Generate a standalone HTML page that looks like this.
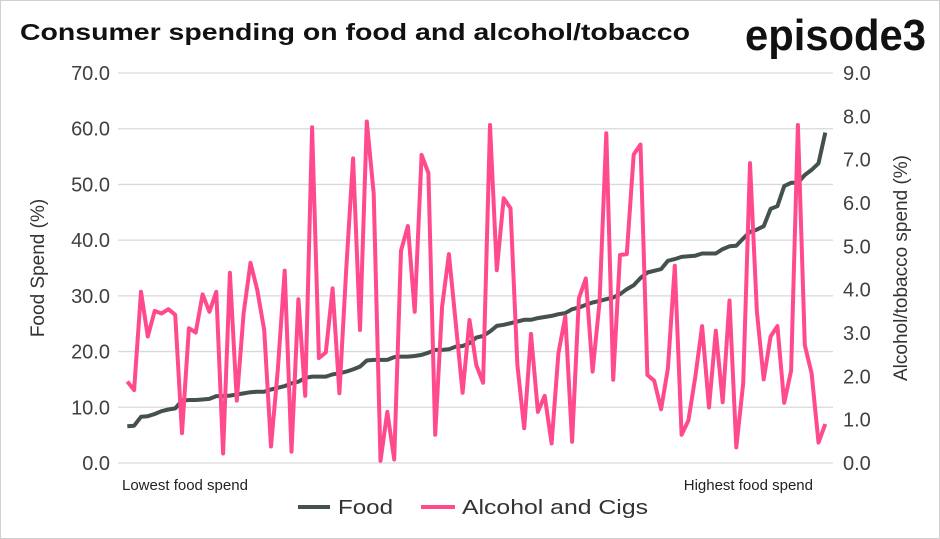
<!DOCTYPE html>
<html><head><meta charset="utf-8"><style>
body{margin:0;background:#fff;}
#wrap{position:relative;width:940px;height:539px;overflow:hidden;background:#fff;font-family:"Liberation Sans",sans-serif;}
</style></head><body>
<div id="wrap">
<svg id="chart" width="940" height="539">
<rect x="0.5" y="0.5" width="939" height="538" fill="none" stroke="#d0d0d0"/>
<text x="20" y="40" font-size="23" font-weight="bold" fill="#111" textLength="670" lengthAdjust="spacingAndGlyphs">Consumer spending on food and alcohol/tobacco</text>
<text x="745" y="50" font-size="44" font-weight="bold" fill="#111" textLength="181" lengthAdjust="spacingAndGlyphs">episode3</text>
<text transform="translate(44,268) rotate(-90)" text-anchor="middle" font-size="19" fill="#333">Food Spend (%)</text>
<text transform="translate(907,268) rotate(-90)" text-anchor="middle" font-size="19" fill="#333">Alcohol/tobacco spend (%)</text>
<text x="122" y="490" font-size="15" fill="#222">Lowest food spend</text>
<text x="813" y="490" text-anchor="end" font-size="15" fill="#222">Highest food spend</text>
<line x1="298" y1="507" x2="330" y2="507" stroke="#44514f" stroke-width="4"/>
<text x="338" y="514" font-size="20" fill="#333" textLength="55" lengthAdjust="spacingAndGlyphs">Food</text>
<line x1="421" y1="507" x2="455" y2="507" stroke="#ff4a8d" stroke-width="4"/>
<text x="462" y="514" font-size="20" fill="#333" textLength="186" lengthAdjust="spacingAndGlyphs">Alcohol and Cigs</text>
<g id="grid"></g><g id="series"></g>
</svg>
</div>
<script>
const leftTicks=["0.0","10.0","20.0","30.0","40.0","50.0","60.0","70.0"];
const rightTicks=["0.0","1.0","2.0","3.0","4.0","5.0","6.0","7.0","8.0","9.0"];
const food=[6.6,6.7,8.3,8.4,8.8,9.3,9.6,9.8,11.2,11.3,11.3,11.4,11.5,12.0,12.0,12.1,12.3,12.5,12.7,12.8,12.8,13.2,13.5,13.8,14.3,14.6,15.3,15.5,15.5,15.5,15.9,16.1,16.4,16.8,17.3,18.4,18.5,18.5,18.5,19.0,19.1,19.1,19.2,19.4,19.8,20.3,20.3,20.4,20.9,21.0,21.5,22.5,22.8,23.6,24.6,24.8,25.1,25.4,25.7,25.7,26.0,26.2,26.4,26.7,26.9,27.6,27.9,28.4,28.8,29.1,29.4,29.7,30.3,31.2,31.9,33.2,34.2,34.5,34.8,36.3,36.6,37.0,37.1,37.2,37.6,37.6,37.6,38.4,38.9,39.0,40.3,41.5,41.9,42.5,45.6,46.1,49.7,50.3,50.3,51.7,52.6,53.8,59.3];
const alcohol=[1.88,1.68,3.95,2.92,3.51,3.45,3.55,3.42,0.69,3.11,3.01,3.89,3.49,3.95,0.22,4.39,1.44,3.45,4.62,3.99,3.07,0.38,2.15,4.44,0.26,3.78,1.55,7.75,2.42,2.55,4.03,1.61,4.5,7.03,3.07,7.88,6.22,0.05,1.18,0.08,4.90,5.47,3.49,7.11,6.69,0.65,3.61,4.82,3.22,1.62,3.30,2.26,1.85,7.80,4.45,6.11,5.88,2.26,0.80,2.98,1.18,1.55,0.45,2.53,3.38,0.49,3.80,4.26,2.11,3.7,7.61,1.92,4.80,4.82,7.12,7.35,2.03,1.90,1.24,2.18,4.55,0.65,0.98,1.99,3.16,1.28,3.05,1.40,3.75,0.36,1.84,6.92,3.49,1.93,2.92,3.16,1.39,2.13,7.80,2.72,2.07,0.47,0.90];
const NS="http://www.w3.org/2000/svg";
const X0=127.3,X1=825.3,Y0=463,Y1=73;
const xs=i=>X0+(X1-X0)*i/(food.length-1);
const yL=v=>Y0-(Y0-Y1)*v/70;
const yR=v=>Y0-(Y0-Y1)*v/9;
const grid=document.getElementById('grid'),ser=document.getElementById('series');
leftTicks.forEach((t,i)=>{
  const y=yL(parseFloat(t));
  const l=document.createElementNS(NS,'line');
  l.setAttribute('x1',118);l.setAttribute('x2',833);l.setAttribute('y1',y);l.setAttribute('y2',y);
  l.setAttribute('stroke','#d9d9d9');l.setAttribute('stroke-width','1.3');
  
  
  grid.appendChild(l);
  const tx=document.createElementNS(NS,'text');
  tx.setAttribute('x',110);tx.setAttribute('y',y+7);tx.setAttribute('text-anchor','end');
  tx.setAttribute('font-size','20');tx.setAttribute('fill','#404040');tx.textContent=t;
  
  
  grid.appendChild(tx);
});
rightTicks.forEach(t=>{
  const y=yR(parseFloat(t));
  const tx=document.createElementNS(NS,'text');
  tx.setAttribute('x',843);tx.setAttribute('y',y+7);
  tx.setAttribute('font-size','20');tx.setAttribute('fill','#404040');tx.textContent=t;
  
  
  grid.appendChild(tx);
});
function line(vals,yf,color,name){
  const p=document.createElementNS(NS,'polyline');
  p.setAttribute('points',vals.map((v,i)=>xs(i).toFixed(1)+','+yf(v).toFixed(1)).join(' '));
  p.setAttribute('fill','none');p.setAttribute('stroke',color);p.setAttribute('stroke-width','4');
  p.setAttribute('stroke-linejoin','round');
  
  
  ser.appendChild(p);
}
line(food,yL,'#44514f','food-line');
line(alcohol,yR,'#ff4a8d','alcohol-line');
</script>
</body></html>
